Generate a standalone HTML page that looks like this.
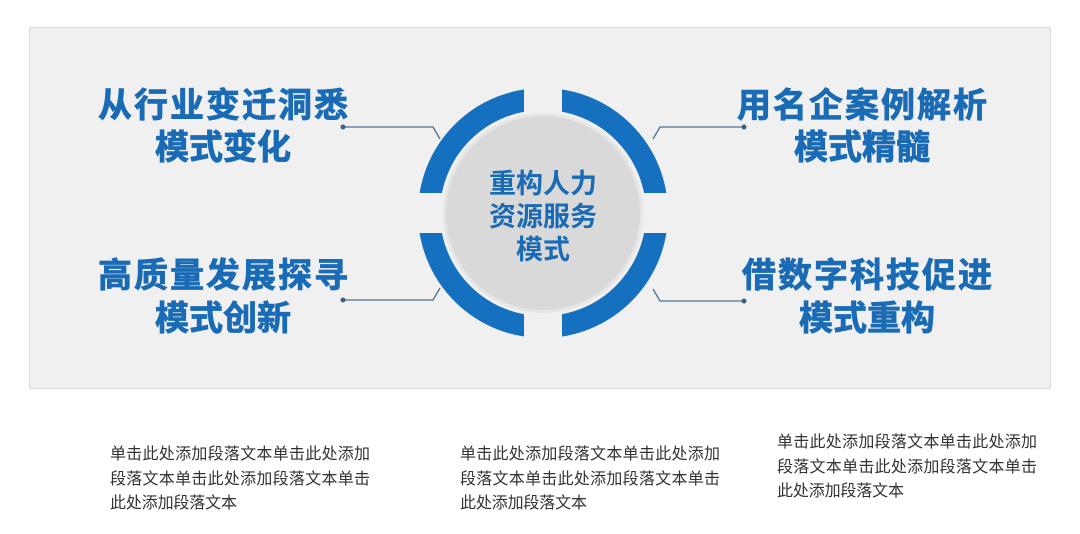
<!DOCTYPE html>
<html><head><meta charset="utf-8"><style>
html,body{margin:0;padding:0;background:#fff;}
svg{display:block;}
</style></head><body>
<svg width="1080" height="534" viewBox="0 0 1080 534" xmlns="http://www.w3.org/2000/svg" font-family="'Liberation Sans','Noto Sans CJK SC',sans-serif">
<rect x="29.5" y="27.5" width="1021" height="361" fill="#f0f0f0" stroke="#dcdcdc"/>
<circle cx="543" cy="213" r="114" fill="none" stroke="#1670c0" stroke-width="22"/>
<rect x="524" y="80" width="38" height="270" fill="#f0f0f0"/>
<rect x="410" y="193" width="270" height="40" fill="#f0f0f0"/>
<circle cx="543" cy="213" r="100" fill="#e6e6e6"/>
<circle cx="543" cy="213" r="97" fill="#d9d9d9"/>
<g fill="#1a6bb5" font-weight="bold" font-size="27" text-anchor="middle">
<text x="543" y="193">重构人力</text>
<text x="543" y="226">资源服务</text>
<text x="543" y="259">模式</text>
</g>
<g stroke="#4d6f8e" stroke-width="1.3" fill="none">
<polyline points="343,127 433,127 440,139"/>
<polyline points="343,300 433,300 440,288"/>
<polyline points="744,127 660,127 653,139"/>
<polyline points="744,301 660,301 653,289"/>
</g>
<g fill="#3d6080">
<circle cx="343" cy="127" r="2.5"/><circle cx="343" cy="300" r="2.5"/>
<circle cx="744" cy="127" r="2.5"/><circle cx="744" cy="301" r="2.5"/>
</g>
<g fill="#1a6bb5" font-weight="bold" font-size="34" text-anchor="middle" stroke="#1a6bb5" stroke-width="0.8">
<text x="223" y="117" textLength="250">从行业变迁洞悉</text>
<text x="223" y="159">模式变化</text>
<text x="862" y="117" textLength="250">用名企案例解析</text>
<text x="862" y="159">模式精髓</text>
<text x="223" y="287" textLength="250">高质量发展探寻</text>
<text x="223" y="330">模式创新</text>
<text x="867" y="287" textLength="250">借数字科技促进</text>
<text x="867" y="330">模式重构</text>
</g>
<g fill="#333" font-size="16">
<text x="110" y="459" textLength="260">单击此处添加段落文本单击此处添加</text>
<text x="110" y="484" textLength="260">段落文本单击此处添加段落文本单击</text>
<text x="110" y="508" textLength="127">此处添加段落文本</text>
<text x="460" y="459" textLength="260">单击此处添加段落文本单击此处添加</text>
<text x="460" y="484" textLength="260">段落文本单击此处添加段落文本单击</text>
<text x="460" y="508" textLength="127">此处添加段落文本</text>
<text x="777" y="447" textLength="260">单击此处添加段落文本单击此处添加</text>
<text x="777" y="472" textLength="260">段落文本单击此处添加段落文本单击</text>
<text x="777" y="496" textLength="127">此处添加段落文本</text>
</g>
</svg>
</body></html>
